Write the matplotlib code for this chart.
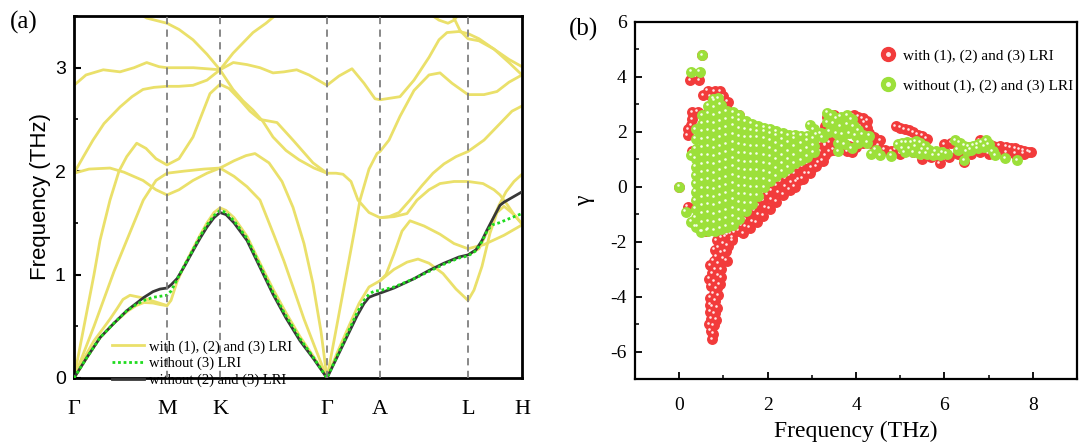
import matplotlib
matplotlib.use('Agg')
import matplotlib.pyplot as plt
from matplotlib.lines import Line2D
from matplotlib.ticker import MultipleLocator
from matplotlib.transforms import offset_copy

plt.rcParams['axes.unicode_minus'] = False
SERIF = 'Liberation Serif'
SANS = 'Liberation Sans'

# ---------------- panel (a): phonon dispersion ----------------
k_ticks = [0, 0.93, 1.46, 2.53, 3.06, 3.94, 4.48]
k_labels = ['Γ', 'M', 'K', 'Γ', 'A', 'L', 'H']

# bands "with (1), (2) and (3) LRI"  (k, THz)
band_y1 = [(0, 0), (0.13, 0.2), (0.26, 0.39), (0.4, 0.53), (0.527, 0.64), (0.62, 0.7), (0.7, 0.73),
           (0.79, 0.725), (0.86, 0.71), (0.93, 0.70), (0.97, 0.75), (1.03, 0.93), (1.11, 1.1), (1.19, 1.25),
           (1.26, 1.38), (1.33, 1.5), (1.4, 1.6), (1.46, 1.645), (1.52, 1.62), (1.6, 1.55), (1.73, 1.37),
           (1.86, 1.11), (1.99, 0.86), (2.12, 0.63), (2.26, 0.40), (2.4, 0.2), (2.53, 0),
           (2.63, 0.24), (2.73, 0.46), (2.85, 0.72), (2.95, 0.88), (3.06, 0.94), (3.2, 1.05), (3.33, 1.12),
           (3.44, 1.15), (3.55, 1.11), (3.69, 1.01), (3.82, 0.86), (3.94, 0.75), (4.0, 0.85), (4.08, 1.08),
           (4.16, 1.40), (4.23, 1.60), (4.3, 1.66), (4.4, 1.58), (4.48, 1.49)]
band_y2 = [(0, 0), (0.1, 0.19), (0.2, 0.36), (0.3, 0.49), (0.36, 0.57), (0.43, 0.67), (0.49, 0.76),
           (0.56, 0.80), (0.66, 0.78), (0.75, 0.755), (0.85, 0.725), (0.93, 0.70)]
band_p = [(0, 0), (0.1, 0.5), (0.2, 1.0), (0.26, 1.33), (0.36, 1.72), (0.45, 2.0), (0.527, 2.14),
          (0.627, 2.27), (0.72, 2.22), (0.82, 2.12), (0.93, 2.06), (1.05, 2.12), (1.19, 2.33), (1.36, 2.75),
          (1.46, 2.84), (1.55, 2.8), (1.66, 2.69), (1.76, 2.58), (1.86, 2.5), (2.03, 2.47), (2.19, 2.3),
          (2.39, 2.08), (2.53, 1.98)]
band_q = [(0, 0), (0.2, 0.5), (0.4, 1.03), (0.527, 1.33), (0.693, 1.72), (0.82, 1.91), (0.93, 1.98),
          (1.1, 2.0), (1.3, 2.02), (1.46, 2.03), (1.6, 1.95), (1.73, 1.85), (1.86, 1.72), (2.0, 1.38),
          (2.1, 1.13), (2.19, 0.88), (2.3, 0.57), (2.42, 0.27), (2.53, 0)]
band_r = [(0, 1.98), (0.15, 2.02), (0.36, 2.03), (0.5, 1.99), (0.69, 1.91), (0.82, 1.82), (0.93, 1.77),
          (1.05, 1.82), (1.19, 1.91), (1.33, 1.98), (1.46, 2.03), (1.6, 2.1), (1.72, 2.15), (1.81, 2.17),
          (1.95, 2.08), (2.08, 1.9), (2.19, 1.65), (2.3, 1.3), (2.39, 0.91), (2.47, 0.45), (2.53, 0)]
band_u = [(0, 1.98), (0.1, 2.15), (0.19, 2.3), (0.3, 2.46), (0.46, 2.62), (0.58, 2.72), (0.69, 2.79),
          (0.8, 2.81), (0.93, 2.82), (1.05, 2.82), (1.19, 2.83), (1.33, 2.88), (1.46, 2.98), (1.59, 2.79),
          (1.69, 2.68), (1.79, 2.59), (1.89, 2.48), (1.99, 2.33), (2.12, 2.2), (2.25, 2.11), (2.4, 2.03),
          (2.53, 1.98)]
band_v = [(0.66, 3.52), (0.727, 3.48), (0.93, 3.43), (1.05, 3.37), (1.19, 3.27), (1.33, 3.13),
          (1.46, 2.98), (1.59, 3.14), (1.79, 3.34), (1.92, 3.43), (2.03, 3.52)]
band_t1 = [(0, 2.83), (0.12, 2.93), (0.293, 2.98), (0.46, 2.96), (0.6, 3.0), (0.727, 3.05), (0.85, 3.01),
           (0.93, 3.0), (1.193, 3.0), (1.46, 2.98), (1.593, 3.05), (1.73, 3.03), (1.86, 3.0), (1.99, 2.95),
           (2.1, 2.96), (2.227, 2.98), (2.35, 2.93), (2.53, 2.83), (2.65, 2.92), (2.78, 2.99), (2.9, 2.85),
           (3.01, 2.7), (3.06, 2.69), (3.26, 2.72), (3.4, 2.88), (3.55, 3.1), (3.65, 3.27), (3.73, 3.34),
           (3.85, 3.35), (3.94, 3.33), (4.05, 3.28), (4.2, 3.18), (4.35, 3.08), (4.48, 3.01)]
band_t2 = [(3.78, 3.52), (3.86, 3.36), (3.94, 3.28), (4.05, 3.26), (4.2, 3.18), (4.35, 3.05), (4.48, 2.93)]
band_top = [(3.56, 3.52), (3.65, 3.46), (3.74, 3.43), (3.8, 3.46), (3.85, 3.52)]
band_s = [(2.53, 0), (2.6, 0.36), (2.7, 0.88), (2.8, 1.4), (2.86, 1.72), (2.95, 2.02), (3.03, 2.17),
          (3.06, 2.19), (3.15, 2.3), (3.26, 2.53), (3.4, 2.78), (3.55, 2.93), (3.66, 2.95), (3.78, 2.85),
          (3.94, 2.74), (4.1, 2.74), (4.23, 2.77), (4.35, 2.86), (4.48, 2.93)]
band_n = [(2.53, 1.98), (2.62, 1.98), (2.69, 1.97), (2.77, 1.9), (2.84, 1.72), (2.95, 1.6), (3.06, 1.55),
          (3.2, 1.56), (3.33, 1.59), (3.43, 1.72), (3.55, 1.82), (3.66, 1.88), (3.8, 1.9), (3.94, 1.9),
          (4.09, 1.88), (4.2, 1.82), (4.26, 1.77), (4.33, 1.68), (4.4, 1.58), (4.48, 1.49)]
band_o = [(3.06, 1.55), (3.15, 1.56), (3.25, 1.6), (3.36, 1.72), (3.48, 1.86), (3.59, 1.98), (3.7, 2.07),
          (3.82, 2.14), (3.94, 2.19), (4.1, 2.3), (4.26, 2.46), (4.38, 2.58), (4.48, 2.63)]
band_y3 = [(3.06, 0.94), (3.12, 1.0), (3.2, 1.2), (3.28, 1.42), (3.36, 1.52), (3.5, 1.47), (3.66, 1.39),
           (3.8, 1.3), (3.94, 1.25), (4.1, 1.29), (4.3, 1.38), (4.48, 1.48)]
band_y4 = [(3.94, 1.19), (4.05, 1.25), (4.15, 1.45), (4.25, 1.67), (4.32, 1.8), (4.4, 1.9), (4.48, 1.97)]

yellow_bands = [band_y1, band_y2, band_p, band_q, band_r, band_u, band_v, band_t1, band_t2,
                band_top, band_s, band_n, band_o, band_y3, band_y4]

# "without (3) LRI"
band_no3 = [(0, 0), (0.13, 0.2), (0.26, 0.39), (0.4, 0.53), (0.527, 0.65), (0.62, 0.71), (0.7, 0.75),
            (0.79, 0.78), (0.86, 0.79), (0.93, 0.80), (0.97, 0.84), (1.03, 0.95), (1.11, 1.1), (1.19, 1.24),
            (1.26, 1.37), (1.33, 1.48), (1.4, 1.57), (1.46, 1.62), (1.52, 1.6), (1.6, 1.52), (1.73, 1.35),
            (1.86, 1.09), (1.99, 0.83), (2.12, 0.6), (2.26, 0.38), (2.4, 0.19), (2.53, 0),
            (2.63, 0.21), (2.73, 0.42), (2.83, 0.63), (2.9, 0.75), (2.95, 0.81), (3.0, 0.84), (3.06, 0.845),
            (3.2, 0.88), (3.4, 0.96), (3.55, 1.03), (3.7, 1.1), (3.85, 1.16), (3.94, 1.18), (4.02, 1.23),
            (4.08, 1.32), (4.13, 1.42), (4.18, 1.48), (4.25, 1.5), (4.35, 1.54), (4.48, 1.59)]
# "without (2) and (3) LRI"
band_no23 = [(0, 0), (0.13, 0.2), (0.26, 0.39), (0.4, 0.53), (0.527, 0.65), (0.62, 0.72), (0.7, 0.78),
             (0.79, 0.835), (0.86, 0.86), (0.93, 0.87), (0.97, 0.9), (1.03, 0.96), (1.11, 1.09), (1.19, 1.23),
             (1.26, 1.35), (1.33, 1.46), (1.4, 1.55), (1.46, 1.6), (1.52, 1.58), (1.6, 1.5), (1.73, 1.33),
             (1.86, 1.07), (1.99, 0.81), (2.12, 0.58), (2.26, 0.36), (2.4, 0.18), (2.53, 0),
             (2.63, 0.2), (2.73, 0.4), (2.83, 0.6), (2.9, 0.72), (2.95, 0.78), (3.0, 0.8), (3.06, 0.82),
             (3.2, 0.87), (3.4, 0.96), (3.55, 1.04), (3.7, 1.11), (3.85, 1.17), (3.94, 1.19), (4.02, 1.24),
             (4.08, 1.33), (4.13, 1.43), (4.2, 1.56), (4.26, 1.67), (4.3, 1.7), (4.48, 1.8)]

# ---------------- panel (b): Grueneisen parameter ----------------
red_left = [(0.0, 0.0), (0.52, 4.79), (0.25, 3.88), (0.45, 3.88), (0.54, 3.33), (0.65, 3.5), (0.8, 3.48),
            (0.93, 3.47), (1.0, 3.3), (0.42, 2.73), (0.3, 2.72), (0.27, 2.24), (0.19, 1.88), (0.2, 2.1),
            (0.3, 2.45), (0.19, -0.73), (0.38, -0.79), (0.6, 2.65), (1.05, 2.95), (1.2, 2.7), (1.35, 2.6),
            (0.6, -1.6), (0.5, -1.5), (1.36, 1.68), (0.28, 1.3), (0.72, 3.3), (1.1, 3.1)]
red_tail = [(1.05, -1.8), (0.95, -1.85), (0.85, -1.95), (1.15, -1.7), (1.0, -2.05), (0.9, -2.2), (1.1, -2.15),
            (0.8, -2.3), (0.95, -2.4), (0.85, -2.55), (1.0, -2.6), (0.78, -2.7), (0.9, -2.8), (0.82, -3.0),
            (0.95, -3.0), (0.75, -3.15), (0.88, -3.25), (0.8, -3.45), (0.72, -3.6), (0.85, -3.7), (0.78, -3.9),
            (0.7, -4.05), (0.82, -4.15), (0.75, -4.35), (0.7, -4.55), (0.8, -4.6), (0.73, -4.8), (0.68, -5.0),
            (0.78, -5.05), (0.72, -5.25), (0.75, -5.55), (0.88, -3.95), (0.86, -4.4), (1.2, -1.95),
            (1.05, -2.35), (0.92, -3.55), (0.7, -4.3), (0.68, -3.35), (0.7, -2.85), (1.08, -2.7),
            (0.95, -3.3), (0.77, -5.35), (0.84, -4.85)]
red_edge = [(1.1, -1.75), (1.25, -1.65), (1.4, -1.4), (1.5, -1.2), (1.6, -1.0), (1.7, -0.85), (1.8, -0.7),
            (1.9, -0.5), (2.0, -0.3), (2.1, -0.15), (2.2, 0.05), (2.3, 0.2), (2.4, 0.3), (2.5, 0.4),
            (2.6, 0.5), (2.65, 0.2), (2.7, 0.65), (2.8, 0.75), (2.9, 0.85), (3.0, 0.95), (3.1, 1.1),
            (3.2, 1.3), (3.3, 1.5), (3.4, 1.6),
            (1.3, -1.2), (1.45, -0.9), (1.6, -0.6), (1.75, -0.4), (1.9, -0.2), (2.05, 0.1), (2.2, 0.35),
            (2.35, 0.55), (2.5, 0.7), (2.65, 0.85), (2.8, 1.0), (2.95, 1.15), (3.1, 1.35), (3.2, 1.6),
            (1.35, -1.6), (1.5, -1.45), (1.65, -1.25), (1.8, -1.0), (1.95, -0.75), (2.1, -0.45),
            (2.25, -0.2), (2.4, 0.0), (2.55, 0.15), (2.7, 0.25), (2.85, 0.5), (3.0, 0.7), (3.15, 0.9),
            (3.3, 1.15), (1.2, -1.85), (1.45, -1.7), (1.6, -1.5), (1.75, -1.3), (1.9, -1.05), (2.05, -0.8),
            (2.2, -0.55), (2.35, -0.3), (2.5, -0.1), (2.62, 0.0), (2.8, 0.3), (2.95, 0.5), (3.1, 0.75),
            (3.25, 0.95), (3.4, 1.3)]
red_mid = [(3.35, 2.55), (3.5, 2.6), (3.95, 2.6), (4.05, 2.55), (4.15, 2.5), (4.2, 2.35), (4.25, 2.15),
           (4.3, 1.95), (4.1, 2.2), (3.3, 2.2), (3.4, 1.9), (3.55, 1.75), (3.7, 1.6), (3.85, 1.5),
           (4.0, 1.45), (4.15, 1.6), (4.35, 1.6), (4.5, 1.5), (4.65, 1.35), (4.8, 1.3), (3.5, 1.35),
           (3.3, 1.55), (3.15, 1.7), (3.8, 1.3), (4.4, 1.8), (4.0, 2.4), (4.1, 2.05), (4.25, 2.4),
           (4.15, 1.8), (3.65, 1.4), (3.9, 1.25), (4.55, 1.7)]
red_right = [(4.9, 2.2), (5.0, 2.15), (5.1, 2.1), (5.2, 2.05), (5.3, 1.98), (5.4, 1.9), (5.5, 1.85),
             (5.6, 1.75), (4.9, 1.35), (5.0, 1.2), (5.1, 1.3), (5.3, 1.25), (5.5, 1.0), (5.7, 1.1),
             (5.9, 0.85), (6.1, 1.1), (6.3, 1.2), (6.45, 0.9), (6.0, 1.35),
             (6.0, 1.55), (6.15, 1.6), (6.3, 1.5), (6.5, 1.45), (6.65, 1.45), (6.8, 1.7), (6.9, 1.6),
             (7.0, 1.55), (7.1, 1.5), (7.25, 1.5), (7.4, 1.45), (7.5, 1.42), (7.6, 1.4), (7.7, 1.35),
             (7.8, 1.32), (7.9, 1.27), (6.6, 1.2), (6.8, 1.25), (7.0, 1.2), (7.2, 1.25), (7.4, 1.25),
             (7.6, 1.2), (7.8, 1.2), (7.95, 1.25)]

wedge_f = [0.38, 0.52, 0.66, 0.80, 0.94, 1.08, 1.22, 1.36, 1.50, 1.64, 1.78, 1.92, 2.06, 2.20,
           2.34, 2.48, 2.62, 2.76, 2.90, 3.04]
wedge_g = [
    [-1.45, -1.12, -0.8, -0.5, -0.18, 0.12, 0.42, 0.72, 1.02, 1.38, 1.75, 2.1],
    [-1.62, -1.3, -0.98, -0.68, -0.38, -0.08, 0.22, 0.52, 0.82, 1.12, 1.42, 1.72, 2.02, 2.3, 2.6],
    [-1.55, -1.25, -0.95, -0.65, -0.35, -0.05, 0.25, 0.55, 0.85, 1.15, 1.45, 1.75, 2.05, 2.35, 2.65, 2.95],
    [-1.6, -1.3, -1.0, -0.7, -0.4, -0.1, 0.2, 0.5, 0.8, 1.1, 1.4, 1.7, 2.0, 2.3, 2.6, 2.9, 3.15],
    [-1.52, -1.22, -0.92, -0.62, -0.32, -0.02, 0.28, 0.58, 0.88, 1.18, 1.48, 1.78, 2.08, 2.38, 2.68, 2.98],
    [-1.45, -1.15, -0.85, -0.55, -0.25, 0.05, 0.35, 0.65, 0.95, 1.25, 1.55, 1.85, 2.15, 2.45, 2.75],
    [-1.38, -1.08, -0.78, -0.48, -0.18, 0.12, 0.42, 0.72, 1.02, 1.32, 1.62, 1.92, 2.22, 2.5, 2.72],
    [-1.18, -0.88, -0.58, -0.28, 0.02, 0.32, 0.62, 0.92, 1.22, 1.52, 1.82, 2.12, 2.4, 2.6],
    [-0.9, -0.6, -0.3, 0.0, 0.3, 0.6, 0.9, 1.2, 1.5, 1.8, 2.1, 2.38],
    [-0.62, -0.32, -0.02, 0.28, 0.58, 0.88, 1.18, 1.48, 1.78, 2.05, 2.3],
    [-0.32, -0.02, 0.28, 0.58, 0.88, 1.18, 1.48, 1.78, 2.02, 2.2],
    [-0.02, 0.26, 0.55, 0.85, 1.15, 1.45, 1.75, 2.0, 2.15],
    [0.2, 0.5, 0.8, 1.1, 1.4, 1.7, 1.95, 2.12],
    [0.38, 0.68, 0.98, 1.28, 1.58, 1.85, 2.02],
    [0.55, 0.85, 1.15, 1.45, 1.72, 1.95],
    [0.7, 1.0, 1.3, 1.6, 1.88],
    [0.85, 1.15, 1.45, 1.75, 1.9],
    [0.97, 1.27, 1.57, 1.85],
    [1.1, 1.4, 1.7, 1.85],
    [1.25, 1.5, 1.75],
]
green_left = [(0.0, 0.0), (0.52, 4.79), (0.27, 4.18), (0.46, 4.18), (0.77, 3.2), (0.88, 3.22),
              (0.27, 1.15), (0.15, -0.91), (0.27, -1.27), (0.42, -1.45), (0.5, -1.64), (0.65, -1.6)]
green_mid = [(3.35, 2.7), (3.45, 2.6), (3.55, 2.5), (3.65, 2.55), (3.8, 2.6), (3.9, 2.45), (3.35, 2.35),
             (3.5, 2.3), (3.65, 2.2), (3.8, 2.25), (3.95, 2.2), (4.05, 2.05), (3.4, 2.0), (3.55, 1.95),
             (3.7, 1.9), (3.85, 1.95), (4.0, 1.85), (4.15, 1.9), (4.3, 1.85), (3.6, 1.6), (3.75, 1.55),
             (3.9, 1.4), (4.05, 1.6), (4.25, 1.6), (3.6, 1.3), (4.45, 1.35), (4.55, 1.15), (4.35, 1.2),
             (4.8, 1.12), (3.2, 1.95), (3.05, 2.1), (2.95, 2.25), (3.1, 1.9), (3.25, 1.8)]
green_right = [(4.95, 1.55), (5.05, 1.6), (5.15, 1.62), (5.25, 1.6), (5.35, 1.65), (5.45, 1.6), (5.55, 1.5),
               (5.05, 1.4), (5.2, 1.4), (5.35, 1.45), (5.5, 1.35), (5.65, 1.35), (5.8, 1.3), (5.95, 1.25),
               (5.1, 1.25), (5.3, 1.25), (5.45, 1.2), (5.6, 1.2), (5.75, 1.15), (5.9, 1.15), (6.05, 1.2),
               (6.45, 0.97), (6.25, 1.7), (6.35, 1.6), (6.45, 1.5), (6.55, 1.45), (6.65, 1.5), (6.75, 1.55),
               (6.85, 1.6), (6.95, 1.7), (7.0, 1.55), (6.9, 1.45), (6.75, 1.4), (6.6, 1.35), (7.1, 1.3),
               (7.15, 1.15), (7.38, 1.03), (7.65, 0.97), (6.3, 1.35), (6.5, 1.3)]

YELLOW = '#EAE06A'
RED = '#F23B3B'
GREEN = '#9CE03A'

fig = plt.figure(figsize=(10.79, 4.42), dpi=100)

# ---- (a) ----
ax1 = fig.add_axes([74 / 1079, 1 - 378 / 442, 448 / 1079, 362 / 442])
for band in yellow_bands:
    ax1.plot([p[0] for p in band], [p[1] for p in band], color=YELLOW, lw=2.0, zorder=2,
             solid_capstyle='round', solid_joinstyle='round')
ax1.plot([p[0] for p in band_no23], [p[1] for p in band_no23], color='#383838', lw=2.0, zorder=3,
         solid_joinstyle='round')
ax1.plot([p[0] for p in band_no3], [p[1] for p in band_no3], color='#1FDC1F', lw=2.0, ls=(0, (1, 1)),
         zorder=4)
for k in k_ticks[1:-1]:
    ax1.axvline(k, color='#7f7f7f', lw=1.3, ls=(0, (4, 3)), zorder=5)

ax1.set_xlim(0, 4.48)
ax1.set_ylim(0, 3.5)
ax1.set_xticks(k_ticks)
ax1.set_xticklabels(k_labels, fontfamily=SERIF, fontsize=16)
ax1.tick_params(axis='x', length=0, pad=16)
ax1.set_yticks([0, 1, 2, 3])
ax1.yaxis.set_minor_locator(MultipleLocator(0.5))
ax1.tick_params(axis='y', which='major', direction='in', length=5, width=1.5, labelsize=14, pad=6)
ax1.tick_params(axis='y', which='minor', direction='in', length=3, width=1.2)
for lab in ax1.get_yticklabels():
    lab.set_fontfamily(SANS)
ax1.set_ylabel('Frequency (THz)', fontfamily=SANS, fontsize=16, labelpad=3)
for sp in ax1.spines.values():
    sp.set_linewidth(2.0)

leg_handles = [Line2D([], [], color=YELLOW, lw=2.0),
               Line2D([], [], color='#1FDC1F', lw=2.0, ls=(0, (1, 1))),
               Line2D([], [], color='#383838', lw=2.0)]
leg_labels = ['with (1), (2) and (3) LRI', 'without (3) LRI', 'without (2) and (3) LRI']
ax1.legend(leg_handles, leg_labels, loc='lower left', bbox_to_anchor=(0.085, -0.025), frameon=False,
           prop={'family': SERIF, 'size': 10.5}, handlelength=2.2, handletextpad=0.35,
           labelspacing=0.22, borderpad=0, borderaxespad=0)
fig.text(0.009, 0.975, '(a)', fontfamily=SERIF, fontsize=18, va='top', ha='left')

# ---- (b) ----
ax2 = fig.add_axes([635 / 1079, 1 - 379 / 442, 442 / 1079, 357 / 442])
hl = offset_copy(ax2.transData, fig=fig, x=-1.1, y=1.1, units='points')


def spheres(points, color, shine, z):
    xs = [p[0] for p in points]
    ys = [p[1] for p in points]
    ax2.scatter(xs, ys, s=62, c=color, linewidths=0, zorder=z)
    ax2.scatter(xs, ys, s=3.5, c=shine, linewidths=0, zorder=z + 0.1, transform=hl)


for grp in [red_edge, red_tail, red_mid, red_right, red_left]:
    spheres(grp, RED, '#FFE8E8', 2)

green_wedge = [(f, g) for f, col in zip(wedge_f, wedge_g) for g in col]
for grp in [green_wedge, green_mid, green_right, green_left]:
    spheres(grp, GREEN, '#F6FFEA', 3)

ax2.set_xlim(-1, 9)
ax2.set_ylim(-7, 6)
ax2.set_xticks([0, 2, 4, 6, 8])
ax2.set_yticks([-6, -4, -2, 0, 2, 4, 6])
ax2.xaxis.set_minor_locator(MultipleLocator(1))
ax2.yaxis.set_minor_locator(MultipleLocator(1))
ax2.tick_params(which='major', direction='in', length=5, width=1.3, labelsize=14, pad=6,
                top=False, right=False)
ax2.tick_params(axis='x', which='major', pad=13)
ax2.tick_params(which='minor', direction='in', length=3, width=1.1, top=False, right=False)
for lab in ax2.get_xticklabels() + ax2.get_yticklabels():
    lab.set_fontfamily(SERIF)
ax2.set_xlabel('Frequency (THz)', fontfamily=SERIF, fontsize=17, labelpad=5)
ax2.set_ylabel('γ', fontfamily=SERIF, fontsize=17, labelpad=11)
for sp in ax2.spines.values():
    sp.set_linewidth(1.6)

sc_handles = [(Line2D([], [], ls='', marker='o', ms=10, mfc=RED, mec=RED),
               Line2D([], [], ls='', marker='o', ms=2.5, mfc='#FFE8E8', mec='#FFE8E8')),
              (Line2D([], [], ls='', marker='o', ms=10, mfc=GREEN, mec=GREEN),
               Line2D([], [], ls='', marker='o', ms=2.5, mfc='#F6FFEA', mec='#F6FFEA'))]
sc_labels = ['with (1), (2) and (3) LRI', 'without (1), (2) and (3) LRI']
ax2.legend(sc_handles, sc_labels, loc='upper left', bbox_to_anchor=(0.555, 0.925), frameon=False,
           prop={'family': SERIF, 'size': 11}, handlelength=1.0, handletextpad=0.5,
           labelspacing=1.05, borderpad=0, borderaxespad=0)
fig.text(0.527, 0.96, '(b)', fontfamily=SERIF, fontsize=18, va='top', ha='left')

fig.savefig('out.png', dpi=100)
